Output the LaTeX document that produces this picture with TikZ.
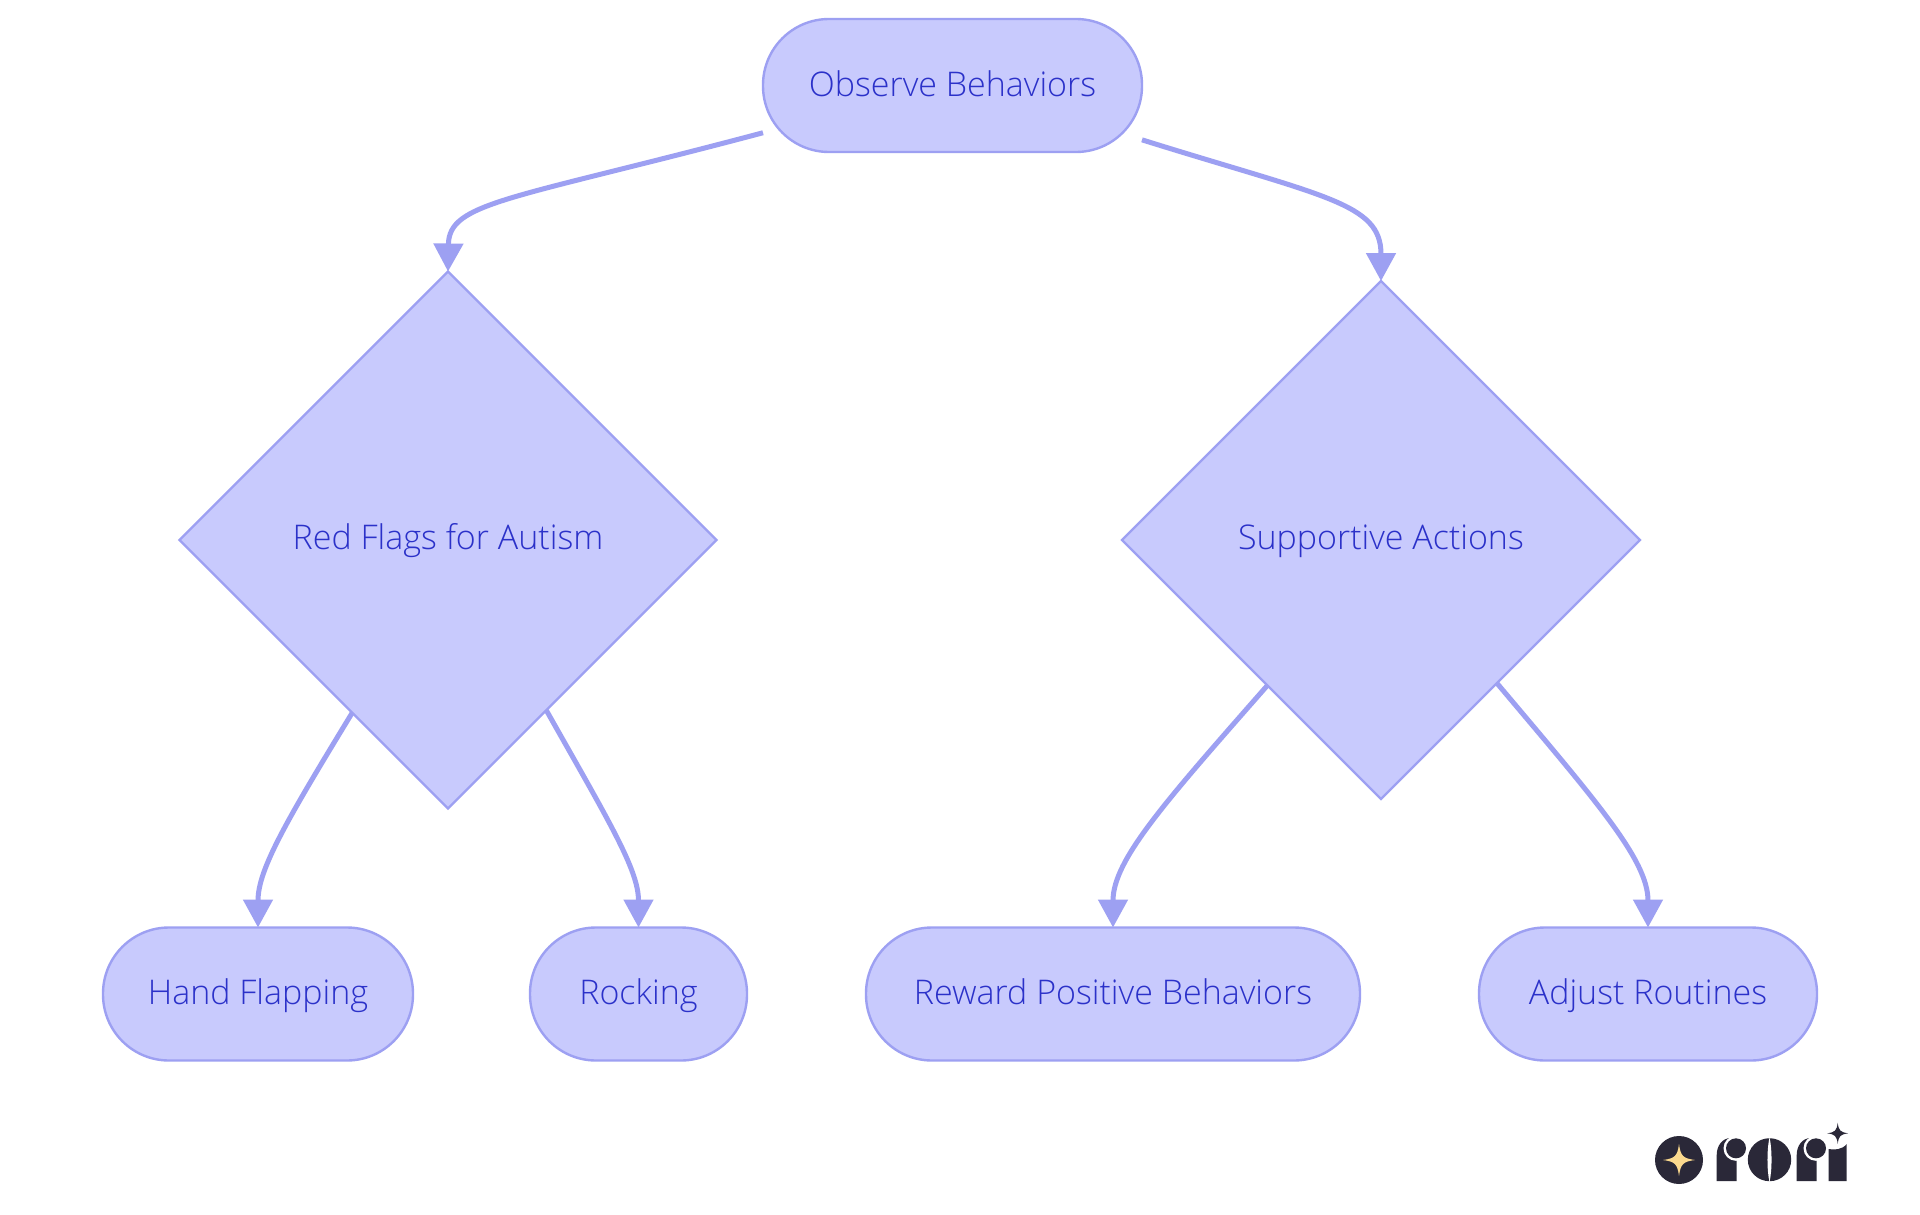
\documentclass[tikz,border=0pt]{standalone}
\usepackage{fontspec}
\setmainfont{Open Sans Light}
\usetikzlibrary{shapes.geometric,arrows.meta,calc}
\definecolor{nodefill}{HTML}{C8CAFD}
\definecolor{nodeline}{HTML}{9DA0F2}
\definecolor{nodetext}{HTML}{2B31C9}
\definecolor{logodark}{HTML}{2A2838}
\definecolor{logostar}{HTML}{FBD98E}
\tikzset{
  x=1pt,y=-1pt,
  basenode/.style={draw=nodeline,fill=nodefill,line width=2.4pt,text=nodetext,inner sep=0pt,outer sep=0pt,text height=26pt,text depth=7pt,font=\fontsize{34}{40}\selectfont},
  pill/.style={basenode,rectangle,rounded corners=66pt,minimum height=133pt,text height=28pt},
  choice/.style={basenode,diamond,aspect=1},
  edge/.style={draw=nodeline,line width=5pt,-{Triangle[width=29pt,length=28pt]}},
  logo/.style={fill=logodark,draw=none},
  logogap/.style={fill=white,draw=none},
}
\newcommand{\sparkle}[3]{% x,y,r
  (#1-#3,#2) .. controls (#1-0.25*#3,#2-0.1*#3) and (#1-0.1*#3,#2-0.25*#3) .. (#1,#2-#3)
  .. controls (#1+0.1*#3,#2-0.25*#3) and (#1+0.25*#3,#2-0.1*#3) .. (#1+#3,#2)
  .. controls (#1+0.25*#3,#2+0.1*#3) and (#1+0.1*#3,#2+0.25*#3) .. (#1,#2+#3)
  .. controls (#1-0.1*#3,#2+0.25*#3) and (#1-0.25*#3,#2+0.1*#3) .. (#1-#3,#2) -- cycle}
\begin{document}
\begin{tikzpicture}
\useasboundingbox (0,0) rectangle (1920,1215);
\fill[white] (0,0) rectangle (1920,1215);
\node[pill,minimum width=379pt] (obs) at (952.5,85.5) {Observe Behaviors};
\node[choice,minimum width=537pt,minimum height=537pt] (flags) at (448,540) {Red Flags for Autism};
\node[choice,minimum width=518pt,minimum height=518pt] (act) at (1381,540) {Supportive Actions};
\node[pill,minimum width=310pt] (hand) at (258,994) {Hand Flapping};
\node[pill,minimum width=217pt] (rock) at (638.5,994) {Rocking};
\node[pill,minimum width=494pt] (rew) at (1113,994) {Reward Positive Behaviors};
\node[pill,minimum width=338pt] (adj) at (1648,994) {Adjust Routines};
\draw[edge] (obs.194.07) .. controls (510,200) and (449,202) .. (flags.north);
\draw[edge] (obs.-16.5) .. controls (1325,197) and (1381,203) .. (act.north);
\draw[edge] (flags.-119.7) .. controls (285,823) and (258,870) .. (hand.north);
\draw[edge] (flags.-60) .. controls (610,823) and (638.5,870) .. (rock.north);
\draw[edge] (act.-128.6) .. controls (1165,802) and (1113,860) .. (rew.north);
\draw[edge] (act.-51) .. controls (1597,802) and (1648,860) .. (adj.north);
% logo
\fill[logo] (1679,1160) circle (24);
\fill[logostar] \sparkle{1679}{1160}{16};
% first r
\fill[logo] (1716.7,1181) -- (1716.7,1155) .. controls (1716.7,1146) and (1722,1138) .. (1731,1138) -- (1736.7,1138) -- (1736.7,1181) -- cycle;
\fill[logogap] (1736,1148.3) circle (12.5);
\fill[logo] (1736,1148.3) circle (10);
% o
\fill[logo] (1769.5,1159.7) ellipse (21.7 and 21.5);
\fill[logogap] (1769.5,1137) .. controls (1772.2,1150) and (1772.2,1170) .. (1769.5,1182) .. controls (1766.8,1170) and (1766.8,1150) .. (1769.5,1137) -- cycle;
% second r
\fill[logo] (1796.7,1181) -- (1796.7,1155) .. controls (1796.7,1146) and (1802,1138) .. (1811,1138) -- (1816.7,1138) -- (1816.7,1181) -- cycle;
\fill[logogap] (1816,1148.3) circle (12.5);
\fill[logo] (1816,1148.3) circle (10);
% i
\fill[logo] (1828.5,1181) -- (1828.5,1149) .. controls (1834,1150) and (1842,1150) .. (1846.7,1144) -- (1846.7,1181) -- cycle;
\fill[logo] \sparkle{1837.7}{1133.3}{10.5};
\end{tikzpicture}
\end{document}
